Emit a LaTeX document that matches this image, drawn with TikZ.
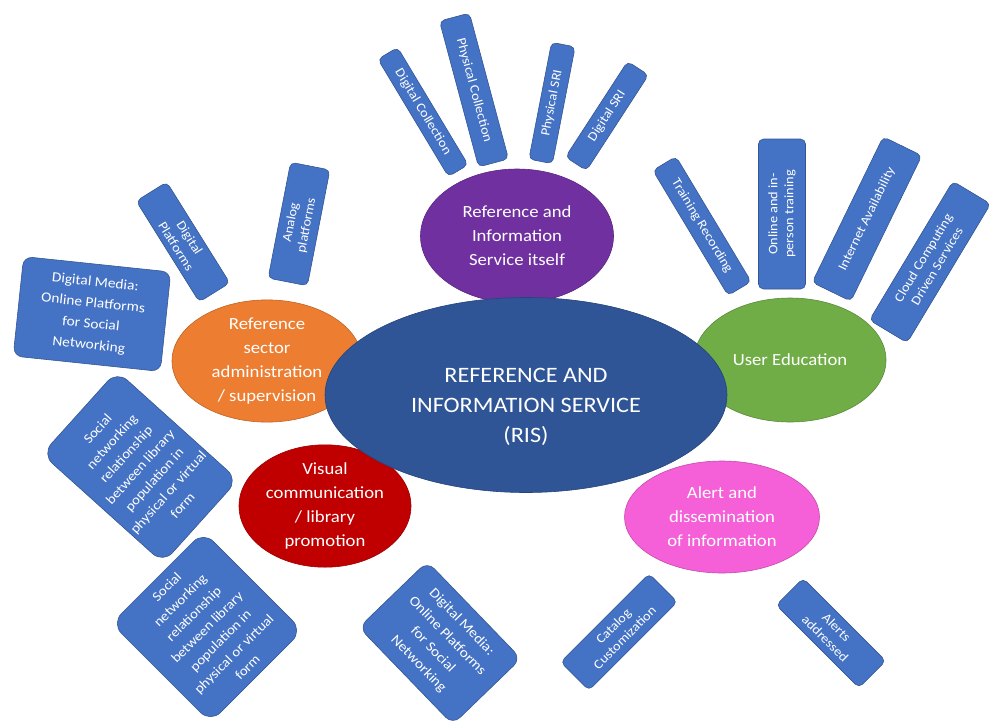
\documentclass[tikz,border=0pt]{standalone}
\usepackage{fontspec}
\setmainfont{Carlito}[FakeStretch=1.1]
\usetikzlibrary{shapes.geometric}
\definecolor{leafblue}{HTML}{4472C4}
\definecolor{risblue}{HTML}{2F5597}
\definecolor{refpurple}{HTML}{7030A0}
\definecolor{admorange}{HTML}{ED7D31}
\definecolor{edugreen}{HTML}{70AD47}
\definecolor{visred}{HTML}{C00000}
\definecolor{alertpink}{HTML}{F55FD8}
\tikzset{
 leaf/.style={draw=leafblue!75!black, line width=0.6pt, fill=leafblue, rounded corners=5pt,
   text=white, align=center, inner sep=2pt, font=\fontsize{13}{16}\selectfont},
 topic/.style={ellipse, fill=#1, draw=#1!80!black, line width=0.6pt, text=white, align=center,
   inner sep=0pt, font=\fontsize{17}{24}\selectfont},
}
\begin{document}
\begin{tikzpicture}[x=1pt,y=-1pt]
 \useasboundingbox (0,0) rectangle (995,726);
 % leaves round the purple topic
 \node[leaf, rotate=-59, minimum width=137pt, minimum height=23pt] (dcoll) at (423,112) {Digital Collection};
 \node[leaf, rotate=-75, minimum width=151pt, minimum height=31pt] (pcoll) at (474,90) {Physical Collection};
 \node[leaf, rotate=79, minimum width=119pt, minimum height=24pt] (psri) at (552,103) {Physical SRI};
 \node[leaf, rotate=57, minimum width=114pt, minimum height=25pt] (dsri) at (607,116) {Digital SRI};
 % leaves round the orange topic
 \node[leaf, rotate=-58, minimum width=119pt, minimum height=36pt] (dplat) at (183,242) {Digital\\Platforms};
 \node[leaf, rotate=79, minimum width=118pt, minimum height=40pt] (aplat) at (299,224) {Analog\\platforms};
 \node[leaf, rotate=-6, minimum width=148pt, minimum height=100pt, rounded corners=9pt,
   font=\fontsize{14}{21}\selectfont] (dmedia) at (92,314) {Digital Media:\\Online Platforms\\for Social\\Networking};
 \node[leaf, rotate=48, minimum width=112pt, minimum height=163pt, rounded corners=14pt,
   font=\fontsize{13.5}{19}\selectfont] (snet) at (140,467)
   {Social\\networking\\relationship\\between library\\population in\\physical or virtual\\form};
 % leaves round the red topic
 \node[leaf, rotate=45, minimum width=130pt, minimum height=140pt, rounded corners=14pt,
   font=\fontsize{13.5}{19}\selectfont] (snetb) at (207,627)
   {Social\\networking\\relationship\\between library\\population in\\physical or virtual\\form};
 \node[leaf, rotate=-46, minimum width=135pt, minimum height=95pt, rounded corners=10pt,
   font=\fontsize{14}{20}\selectfont] (dmediab) at (440,643) {Digital Media:\\Online Platforms\\for Social\\Networking};
 % leaves round the pink topic
 \node[leaf, rotate=45, minimum width=125pt, minimum height=40pt] (catal) at (619,632) {Catalog\\Customization};
 \node[leaf, rotate=-45, minimum width=117pt, minimum height=38pt] (alerts) at (831,633) {Alerts\\addressed};
 % leaves round the green topic
 \node[leaf, rotate=-59, minimum width=146pt, minimum height=27pt] (train) at (702,226) {Training Recording};
 \node[leaf, rotate=90, minimum width=150pt, minimum height=47pt] (online) at (782,214) {Online and in-\\person training};
 \node[leaf, rotate=64, minimum width=162pt, minimum height=43pt] (inet) at (867,219) {Internet Availability};
 \node[leaf, rotate=59, minimum width=162pt, minimum height=44pt] (cloud) at (930,262) {Cloud Computing\\Driven Services};
 %
 \node[topic=refpurple, minimum width=193pt, minimum height=134pt] (itself) at (517,236) {Reference and\\Information\\Service itself};
 \node[topic=admorange, minimum width=190pt, minimum height=120pt] (admin) at (267,361) {Reference\\sector\\administration\\/ supervision};
 \node[topic=edugreen, minimum width=192pt, minimum height=124pt] (usered) at (790,360) {User Education};
 \node[topic=visred, minimum width=172pt, minimum height=121pt] (visual) at (325,506) {Visual\\communication\\/ library\\promotion};
 \node[topic=alertpink, minimum width=195pt, minimum height=112pt] (alert) at (722,517) {Alert and\\dissemination\\of information};
 %
 \node[topic=risblue, minimum width=402pt, minimum height=195pt,
   label={[text=white, align=center, yshift=-12pt, font=\fontsize{22}{30}\selectfont]center:{REFERENCE AND\\INFORMATION SERVICE\\(RIS)}}] (ris) at (526,395) {};
\end{tikzpicture}
\end{document}
